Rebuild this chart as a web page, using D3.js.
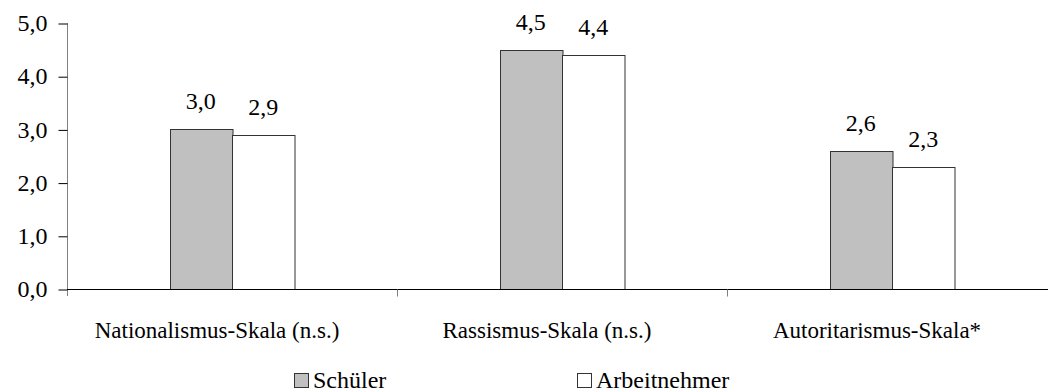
<!DOCTYPE html>
<html>
<head>
<meta charset="utf-8">
<script src="https://cdn.jsdelivr.net/npm/d3@7"></script>
</head>
<body style="margin:0">
<svg id="chart" width="1048" height="392"></svg>
<script>
// Mittelwerte der Skalen nach Gruppe
const categories = ["Nationalismus-Skala (n.s.)", "Rassismus-Skala (n.s.)", "Autoritarismus-Skala*"];
const seriesNames = ["Schüler", "Arbeitnehmer"];
const schueler = [3.0, 4.5, 2.6];
const arbeitnehmer = [2.9, 4.4, 2.3];
const yTicks = [0, 1, 2, 3, 4, 5];

const seriesFill = { "Schüler": "#c0c0c0", "Arbeitnehmer": "#ffffff" };
const fmt = v => d3.format(".1f")(v).replace(".", ",");
const FAMILY = "serif";
const FONT = 23;
const NUM_FONT = 24;
const LEGEND_FONT = 24;

const svg = d3.select("#chart");
const plotLeft = 67, plotRight = 1057, plotTop = 23, plotBottom = 289;

const x0 = d3.scaleBand().domain(categories).range([plotLeft, plotRight]).paddingInner(0).paddingOuter(0);
const x1 = d3.scaleBand().domain(seriesNames).range([0, x0.bandwidth()]).paddingInner(0).paddingOuter(1.64);
const y = d3.scaleLinear().domain([0, 5]).range([plotBottom, plotTop]);

const rows = categories.map((c, i) => ({
  cat: c,
  values: [
    { name: "Schüler", value: schueler[i] },
    { name: "Arbeitnehmer", value: arbeitnehmer[i] }
  ]
}));

// Balken
const groups = svg.append("g").selectAll("g").data(rows).join("g")
  .attr("transform", d => `translate(${x0(d.cat)},0)`);

groups.selectAll("rect").data(d => d.values).join("rect")
  .attr("x", d => Math.round(x1(d.name)) + 0.5)
  .attr("y", d => Math.round(y(d.value)) + 0.5)
  .attr("width", x1.bandwidth())
  .attr("height", d => Math.round(y(0)) - Math.round(y(d.value)))
  .attr("fill", d => seriesFill[d.name])
  .attr("stroke", "#333")
  .attr("stroke-width", 1);

// Wertbeschriftungen
groups.selectAll("text.val").data(d => d.values).join("text")
  .attr("class", "val")
  .attr("x", d => x1(d.name) + x1.bandwidth() / 2)
  .attr("y", d => y(d.value) - 20)
  .attr("text-anchor", "middle")
  .attr("font-family", FAMILY)
  .attr("font-size", NUM_FONT)
  .attr("fill", "#000")
  .text(d => fmt(d.value));

// y-Achse
const yAxis = svg.append("g")
  .attr("transform", `translate(${plotLeft + 0.5},0)`)
  .call(d3.axisLeft(y).tickValues(yTicks).tickFormat(fmt).tickSize(9).tickPadding(11))
  .attr("font-family", FAMILY)
  .attr("font-size", NUM_FONT);
yAxis.select(".domain").attr("stroke", "#808080").attr("d", `M0,${plotTop}V${plotBottom + 7}`);
yAxis.selectAll(".tick line").attr("stroke", "#000").attr("transform", "translate(0,0.5)");
yAxis.selectAll(".tick text")
  .attr("font-family", FAMILY)
  .attr("font-size", NUM_FONT)
  .attr("fill", "#000");

// x-Achse
const xAxisG = svg.append("g").attr("transform", `translate(0,${plotBottom + 0.5})`);
xAxisG.append("line").attr("x1", plotLeft).attr("x2", plotRight).attr("stroke", "#000");
const boundaries = categories.map(c => x0(c)).concat([x0(categories[categories.length - 1]) + x0.bandwidth()]);
xAxisG.selectAll("line.tick").data(boundaries.slice(1)).join("line")
  .attr("class", "tick")
  .attr("x1", d => Math.round(d) + 0.5).attr("x2", d => Math.round(d) + 0.5)
  .attr("y1", 0).attr("y2", 7)
  .attr("stroke", "#808080");

xAxisG.selectAll("text").data(categories).join("text")
  .attr("x", d => x0(d) + x0.bandwidth() / 2 - 15)
  .attr("y", 48)
  .attr("text-anchor", "middle")
  .attr("font-family", FAMILY)
  .attr("font-size", FONT)
  .attr("fill", "#000")
  .text(d => d);

// Legende
const legendPos = { "Schüler": 294, "Arbeitnehmer": 577 };
const legend = svg.append("g").selectAll("g").data(seriesNames).join("g")
  .attr("transform", d => `translate(${legendPos[d]},373)`);
legend.append("rect")
  .attr("x", 0.5).attr("y", 0.5).attr("width", 14).attr("height", 14)
  .attr("fill", d => seriesFill[d]).attr("stroke", "#333");
legend.append("text")
  .attr("x", 19).attr("y", 15)
  .attr("font-family", FAMILY)
  .attr("font-size", LEGEND_FONT)
  .attr("fill", "#000")
  .text(d => d);
</script>
</body>
</html>
